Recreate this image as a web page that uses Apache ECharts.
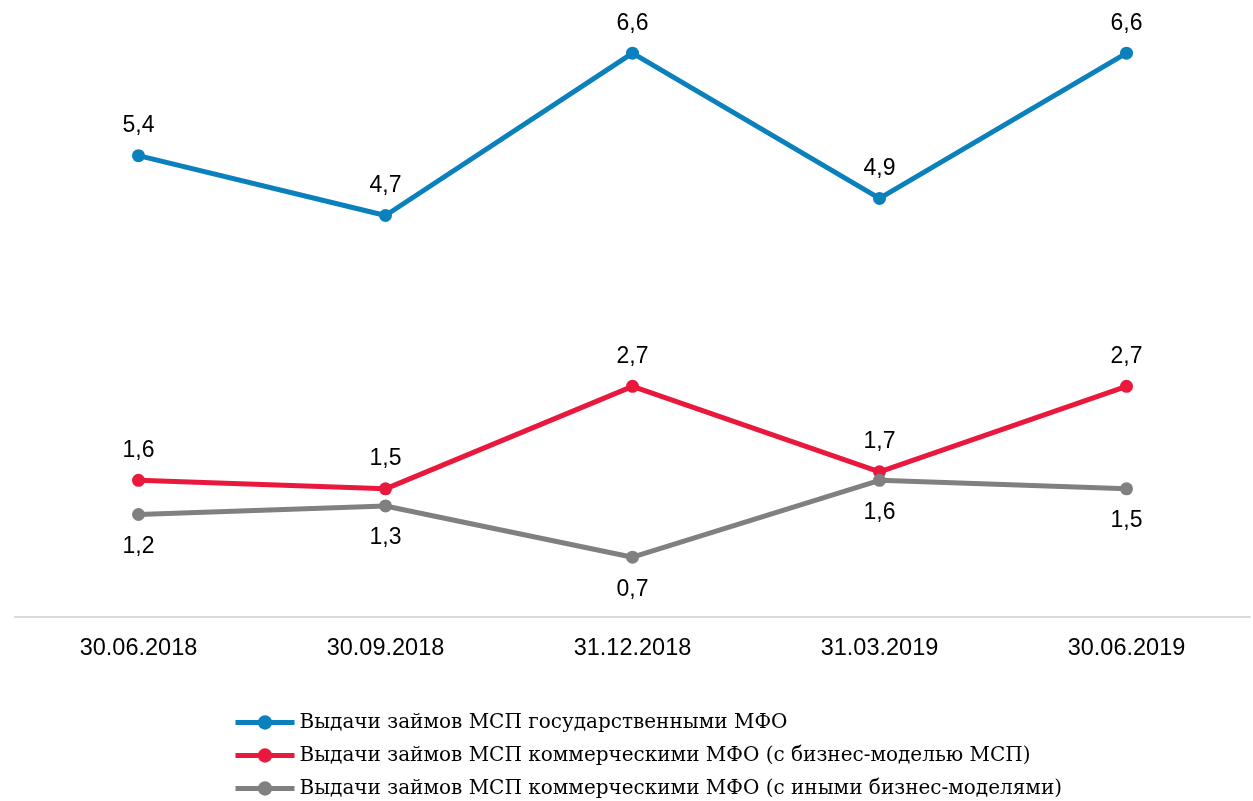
<!DOCTYPE html>
<html>
<head>
<meta charset="utf-8">
<script src="https://cdn.jsdelivr.net/npm/echarts@6/dist/echarts.min.js"></script>
<style>
  html, body { margin: 0; padding: 0; background: #fff; }
  #chart { width: 1253px; height: 801px; }
</style>
</head>
<body>
<div id="chart"></div>
<script>
// даты отчетов
var dates = ['30.06.2018', '30.09.2018', '31.12.2018', '31.03.2019', '30.06.2019'];
// млрд руб.
var stateMfo = [5.4, 4.7, 6.6, 4.9, 6.6];
var commSme = [1.6, 1.5, 2.7, 1.7, 2.7];
var commOther = [1.2, 1.3, 0.7, 1.6, 1.5];
var seriesNames = [
  'Выдачи займов МСП государственными МФО',
  'Выдачи займов МСП коммерческими МФО (с бизнес-моделью МСП)',
  'Выдачи займов МСП коммерческими МФО (с иными бизнес-моделями)'
];

var chart = echarts.init(document.getElementById('chart'));

function fmt(p) {
  return String(p.value).replace('.', ',');
}

function makeLine(name, data, color, labelPos) {
  return {
    name: name,
    type: 'line',
    data: data,
    symbol: 'circle',
    symbolSize: 13,
    lineStyle: { color: color, width: 5 },
    itemStyle: { color: color },
    label: {
      show: true,
      position: labelPos,
      distance: labelPos == 'top' ? 12 : 14,
      formatter: fmt,
      color: '#000',
      fontFamily: 'Liberation Sans',
      fontSize: 23
    },
    animation: false
  };
}

var option = {
  grid: { left: 15, right: 3, top: 19, bottom: 184 },
  xAxis: {
    type: 'category',
    data: dates,
    axisLine: { lineStyle: { color: '#d9d9d9', width: 2 } },
    axisTick: { show: false },
    axisLabel: {
      color: '#000',
      fontFamily: 'Liberation Sans',
      fontSize: 23.5,
      margin: 20
    }
  },
  yAxis: {
    type: 'value',
    min: 0,
    max: 7,
    show: false
  },
  legend: {
    orient: 'vertical',
    left: 233,
    top: 712,
    padding: 0,
    itemWidth: 59,
    itemHeight: 18,
    itemGap: 12,
    lineStyle: { width: 5 },
    data: seriesNames,
    textStyle: {
      fontFamily: 'DejaVu Serif',
      fontSize: 20,
      lineHeight: 21,
      color: '#000'
    }
  },
  series: [
    makeLine(seriesNames[0], stateMfo, '#0a80bd', 'top'),
    makeLine(seriesNames[1], commSme, '#e8193c', 'top'),
    makeLine(seriesNames[2], commOther, '#808080', 'bottom')
  ]
};

chart.setOption(option);
</script>
</body>
</html>
